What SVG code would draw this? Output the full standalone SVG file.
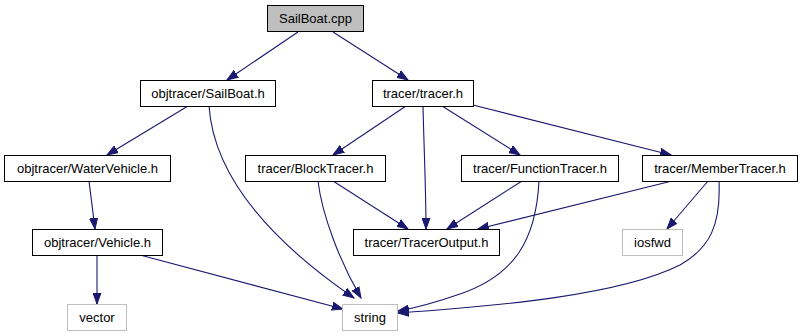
<svg xmlns="http://www.w3.org/2000/svg" width="803" height="336" viewBox="0 0 803 336">
  <style>
    .node rect { fill: #ffffff; stroke: #000000; stroke-width: 1; }
    .node.root rect { fill: #bfbfbf; }
    .node.ext rect { stroke: #bfbfbf; }
    .node text { font-family: "Liberation Sans", Arial, sans-serif; font-size: 13px; fill: #000000; text-anchor: middle; }
    .edges path { fill: none; stroke: #191970; stroke-width: 1.1; marker-end: url(#arrow); }
  </style>
  <defs>
    <marker id="arrow" markerUnits="userSpaceOnUse" markerWidth="12" markerHeight="9" refX="11" refY="4.5" orient="auto">
      <path d="M0,0.5 L11,4.5 L0,8.5 Z" fill="#191970" stroke="#191970" stroke-width="1"/>
    </marker>
  </defs>
  <rect width="803" height="336" fill="#ffffff"/>

  <g class="edges">
    <path d="M298,32 L227,80"/>
    <path d="M333,32 L408,80"/>
    <path d="M188,106 L107,155"/>
    <path d="M209,106 C213,165 255,230 354,298"/>
    <path d="M89,181 L95,229"/>
    <path d="M97,255 L97,304"/>
    <path d="M140,255 L343,309"/>
    <path d="M406,106 L333,155"/>
    <path d="M423,106 C424,150 426,190 426,229"/>
    <path d="M442,106 L520,155"/>
    <path d="M473,105 L671,155"/>
    <path d="M333,181 L408,229"/>
    <path d="M318,181 C322,215 340,262 361,298"/>
    <path d="M522,181 L447,229"/>
    <path d="M539,181 C536,240 515,275 460,294 C440,301 420,307 398,311"/>
    <path d="M672,181 L478,229"/>
    <path d="M708,181 L667,229"/>
    <path d="M719,181 C721,225 710,248 680,265 C620,295 500,306 398,313"/>
  </g>

  <g id="node-sailboat-cpp" class="node root">
    <rect x="267.5" y="5.5" width="96" height="26"/>
    <text x="315.5" y="23">SailBoat.cpp</text>
  </g>
  <g id="node-objtracer-sailboat-h" class="node">
    <rect x="140.5" y="80.5" width="135" height="26"/>
    <text x="208" y="98">objtracer/SailBoat.h</text>
  </g>
  <g id="node-tracer-tracer-h" class="node">
    <rect x="372.5" y="80.5" width="101" height="26"/>
    <text x="423" y="98">tracer/tracer.h</text>
  </g>
  <g id="node-objtracer-watervehicle-h" class="node">
    <rect x="4.5" y="155.5" width="166" height="26"/>
    <text x="87.5" y="173">objtracer/WaterVehicle.h</text>
  </g>
  <g id="node-tracer-blocktracer-h" class="node">
    <rect x="245.5" y="155.5" width="140" height="26"/>
    <text x="315.5" y="173">tracer/BlockTracer.h</text>
  </g>
  <g id="node-tracer-functiontracer-h" class="node">
    <rect x="461.5" y="155.5" width="157" height="26"/>
    <text x="540" y="173">tracer/FunctionTracer.h</text>
  </g>
  <g id="node-tracer-membertracer-h" class="node">
    <rect x="642.5" y="155.5" width="155" height="26"/>
    <text x="720" y="173">tracer/MemberTracer.h</text>
  </g>
  <g id="node-objtracer-vehicle-h" class="node">
    <rect x="32.5" y="229.5" width="130" height="26"/>
    <text x="97.5" y="247">objtracer/Vehicle.h</text>
  </g>
  <g id="node-tracer-traceroutput-h" class="node">
    <rect x="353.5" y="229.5" width="146" height="26"/>
    <text x="426.5" y="247">tracer/TracerOutput.h</text>
  </g>
  <g id="node-iosfwd" class="node ext">
    <rect x="622.5" y="229.5" width="60" height="26"/>
    <text x="652.5" y="247">iosfwd</text>
  </g>
  <g id="node-vector" class="node ext">
    <rect x="67.5" y="304.5" width="59" height="26"/>
    <text x="97" y="322">vector</text>
  </g>
  <g id="node-string" class="node ext">
    <rect x="342.5" y="304.5" width="55" height="26"/>
    <text x="370" y="322">string</text>
  </g>
</svg>
